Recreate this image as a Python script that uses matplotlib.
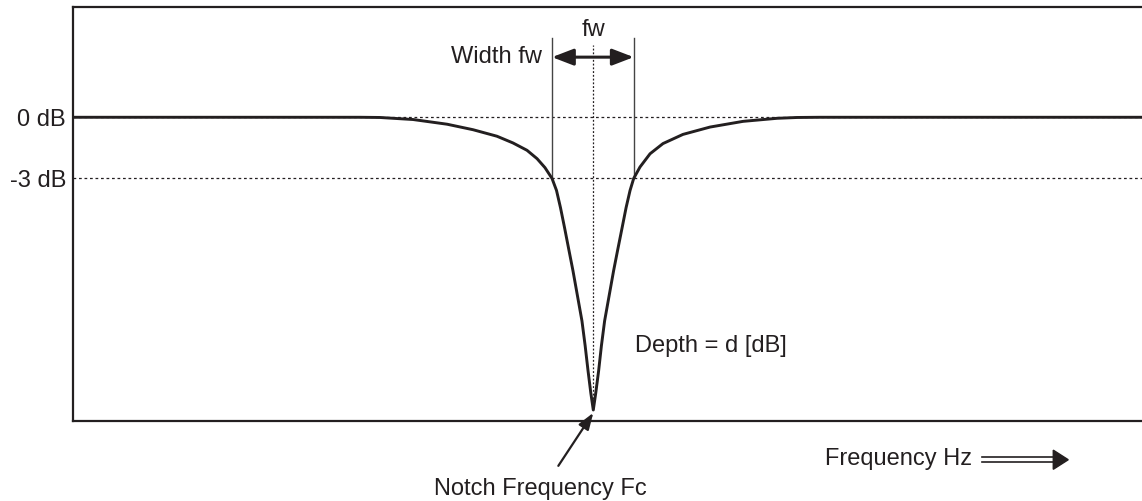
import matplotlib
matplotlib.use("Agg")
import matplotlib.pyplot as plt
from matplotlib.patches import Polygon

plt.rcParams['font.family'] = ['Liberation Sans', 'DejaVu Sans']

# ---- data (frequency in arbitrary units 0..100, gain in dB)
freq = [0.0, 26.85, 28.72, 31.81, 34.99, 37.42, 39.66, 41.16, 42.47, 43.41, 44.15, 44.81,
        45.23, 45.60, 45.98, 46.40, 46.77, 47.19, 47.61, 47.91, 48.18, 48.44, 48.67,
        48.90, 49.17, 49.43, 49.73, 50.15, 50.57, 50.94, 51.37, 51.74, 52.11, 52.45,
        53.04, 53.98, 55.19, 57.06, 59.59, 62.68, 65.86, 67.73, 69.88, 100.0]
gain_db = [0.0, 0.0, -0.01, -0.11, -0.34, -0.61, -0.93, -1.26, -1.62, -2.03, -2.47, -3.0,
           -3.59, -4.43, -5.41, -6.54, -7.53, -8.76, -9.99, -11.21, -12.44, -13.53, -14.36,
           -13.53, -12.44, -11.21, -9.99, -8.76, -7.53, -6.54, -5.41, -4.43, -3.59, -3.0,
           -2.44, -1.79, -1.29, -0.84, -0.48, -0.20, -0.05, -0.01, 0.0, 0.0]
ref_levels_db = [0, -3]
ref_labels = ['0 dB', '-3 dB']
f_center = 48.67
f_low, f_high = 44.81, 52.45
depth_db = -14.36

ink = '#231f20'
fs = 17

fig = plt.figure(figsize=(11.42, 5.01), dpi=100)
ax = fig.add_axes([73/1142, 80/501, 1 - 73/1142, 414/501])
ax.set_xlim(0, 100)
ax.set_ylim(-14.9, 5.41)

# reference dotted lines
for lv in ref_levels_db:
    ax.axhline(lv, color=ink, lw=0.9, ls=(0, (2.2, 2.2)), zorder=1)

# response curve
ax.plot(freq, gain_db, color=ink, lw=2.1, zorder=3, solid_joinstyle='round')

# centre dotted line
ax.plot([f_center, f_center], [depth_db, 3.54], color=ink, lw=0.9,
        ls=(0, (1.5, 1.5)), zorder=2)

# width markers
for fx in (f_low, f_high):
    ax.plot([fx, fx], [-3.0, 3.89], color='#444444', lw=1.0, zorder=2)
ax.annotate('', xy=(f_low, 2.95), xytext=(f_high, 2.95),
            arrowprops=dict(arrowstyle='<|-|>,head_length=1.3,head_width=0.5',
                            color=ink, lw=2.2, shrinkA=0, shrinkB=0))
ax.text(f_center, 4.28, 'fw', ha='center', va='center', fontsize=fs, color=ink)
ax.text(43.9, 2.95, 'Width fw', ha='right', va='center', fontsize=fs, color=ink)

ax.text(52.6, -11.2, 'Depth = d [dB]', ha='left', va='center', fontsize=fs, color=ink)

# notch frequency arrow
ax.annotate('', xy=(f_center, -14.5), xytext=(45.4, -17.1), annotation_clip=False,
            arrowprops=dict(arrowstyle='-|>,head_length=1.0,head_width=0.35',
                            color=ink, lw=1.6, shrinkA=0, shrinkB=0))
ax.text(43.7, -18.25, 'Notch Frequency Fc', ha='center', va='center', fontsize=fs,
        color=ink, clip_on=False)

# frequency axis label with double arrow
ax.text(70.3, -16.77, 'Frequency Hz', ha='left', va='center', fontsize=fs,
        color=ink, clip_on=False)
for yy in (-16.67, -16.92):
    ax.plot([85.0, 91.9], [yy, yy], color=ink, lw=1.2, clip_on=False)
ax.add_patch(Polygon([[91.7, -16.33], [93.1, -16.8], [91.7, -17.27]], closed=True,
                     facecolor=ink, edgecolor=ink, clip_on=False))

ax.set_xticks([])
ax.set_yticks(ref_levels_db)
ax.set_yticklabels(ref_labels, fontsize=fs, color=ink)
ax.tick_params(axis='y', length=0, pad=5)
for s in ('left', 'top', 'bottom'):
    ax.spines[s].set_color(ink)
    ax.spines[s].set_linewidth(1.6)
ax.spines['right'].set_visible(False)

fig.savefig('out.png', dpi=100)
